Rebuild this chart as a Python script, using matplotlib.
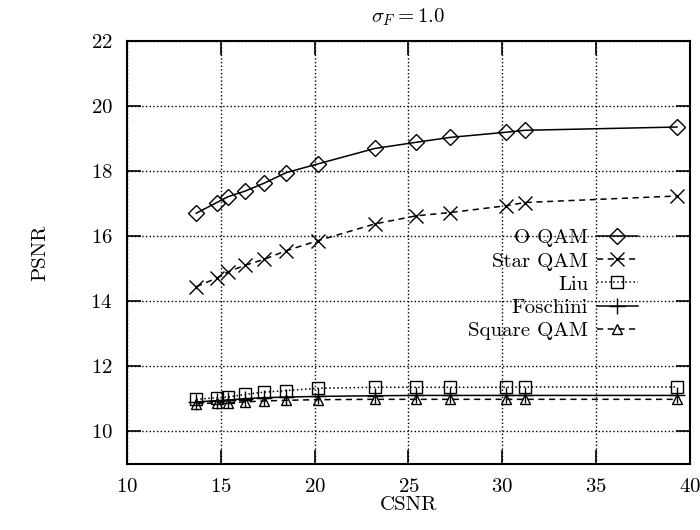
import matplotlib

matplotlib.use("Agg")
import matplotlib.pyplot as plt

# CSNR sample points (shared by all schemes)
csnr = [13.7, 14.8, 15.4, 16.3, 17.3, 18.5, 20.2, 23.2, 25.4, 27.2, 30.2, 31.2, 39.3]

o_qam = [16.70, 17.03, 17.21, 17.38, 17.62, 17.95, 18.22, 18.69, 18.88, 19.03, 19.19, 19.25, 19.35]
star_qam = [14.44, 14.71, 14.90, 15.10, 15.28, 15.55, 15.86, 16.37, 16.62, 16.72, 16.93, 17.03, 17.23]
liu = [10.98, 11.03, 11.05, 11.13, 11.20, 11.25, 11.32, 11.35, 11.35, 11.35, 11.35, 11.36, 11.36]
foschini = [10.90, 10.94, 10.96, 11.00, 11.03, 11.05, 11.07, 11.09, 11.10, 11.10, 11.10, 11.10, 11.10]
square_qam = [10.85, 10.87, 10.88, 10.90, 10.93, 10.95, 10.97, 10.98, 10.98, 10.98, 10.98, 10.98, 10.98]

x_ticks = [10, 15, 20, 25, 30, 35, 40]
y_ticks = [10, 12, 14, 16, 18, 20, 22]

plt.rcParams["font.family"] = "cmr10"
plt.rcParams["mathtext.fontset"] = "cm"
plt.rcParams["axes.formatter.use_mathtext"] = True

fig = plt.figure(figsize=(7.0, 5.3), dpi=100)
ax = fig.add_axes([0.181, 0.125, 0.805, 0.798])

kw = dict(color="black", lw=1.1, mfc="none", mec="black", mew=1.0)
ax.plot(csnr, o_qam, "-", marker="D", ms=8, label="O QAM", **kw)
ax.plot(csnr, star_qam, "--", marker="x", ms=10, label="Star QAM", dashes=(4, 3), **kw)
ax.plot(csnr, liu, ":", marker="s", ms=9, label="Liu", **kw)
ax.plot(csnr, foschini, "-", marker="+", ms=11, label="Foschini", **kw)
ax.plot(csnr, square_qam, "--", marker="^", ms=7, label="Square QAM", dashes=(4, 3), **kw)

ax.set_xlim(10, 40)
ax.set_ylim(9, 22)
ax.set_xticks(x_ticks)
ax.set_yticks(y_ticks)
ax.tick_params(direction="in", length=10, width=1.2, top=True, right=True,
               labelsize=15, pad=10)
ax.grid(True, linestyle=":", color="black", lw=1.0)
for sp in ax.spines.values():
    sp.set_linewidth(1.5)

ax.set_xlabel("CSNR", fontsize=15, labelpad=0)
ax.set_ylabel("PSNR", fontsize=15, labelpad=30)
ax.set_title(r"$\sigma_F = 1.0$", fontsize=15, pad=13)

ax.legend(loc="upper right", bbox_to_anchor=(0.93, 0.585), markerfirst=False,
          frameon=False, fontsize=15, labelspacing=0.22, handlelength=2.0,
          handletextpad=0.4, borderpad=0.1)

fig.savefig("out.png", dpi=100)
